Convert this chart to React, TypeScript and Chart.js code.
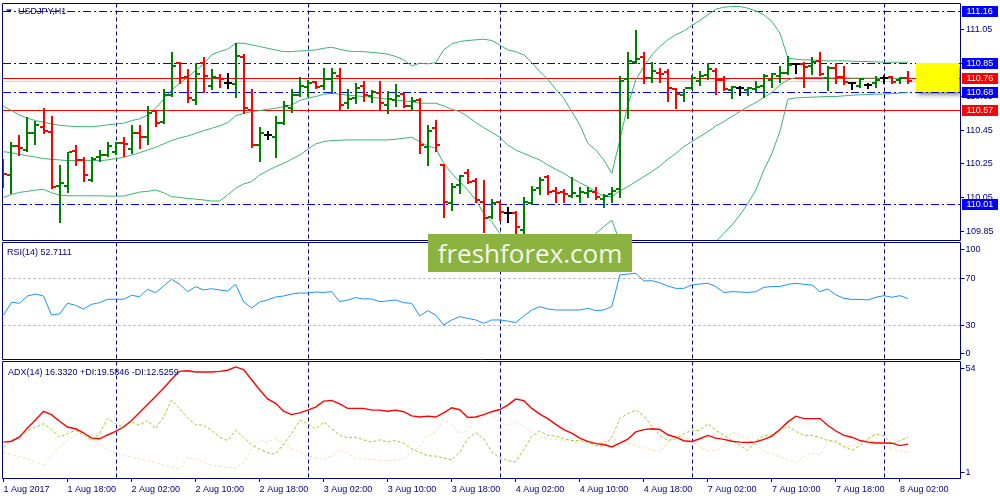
import React, { useEffect, useRef } from 'react';
import { Chart, registerables } from 'chart.js';

Chart.register(...registerables);

// ---------------- data (USDJPY H1, 1 Aug 2017 10:00 .. 8 Aug 2017 03:00) ----------------
const opens = [
  110.254, 110.184, 110.357, 110.333, 110.436, 110.468, 110.438, 110.119, 110.121, 110.329,
  110.274, 110.155, 110.293, 110.303, 110.323, 110.377, 110.337, 110.436, 110.409, 110.565,
  110.502, 110.661, 110.849, 110.766, 110.631, 110.853, 110.714, 110.764, 110.734, 110.726,
  110.885, 110.571, 110.363, 110.422, 110.413, 110.492, 110.581, 110.661, 110.706, 110.740,
  110.714, 110.754, 110.774, 110.611, 110.645, 110.714, 110.657, 110.674, 110.601, 110.631,
  110.666, 110.595, 110.631, 110.353, 110.462, 110.244, 110.020, 110.125, 110.198, 110.151,
  110.026, 109.936, 110.026, 109.956, 109.956, 109.857, 110.016, 110.105, 110.170, 110.091,
  110.085, 110.059, 110.059, 110.079, 110.085, 110.039, 110.069, 110.099, 110.754, 110.859,
  110.885, 110.760, 110.793, 110.799, 110.694, 110.661, 110.700, 110.746, 110.780, 110.805,
  110.750, 110.690, 110.700, 110.690, 110.694, 110.714, 110.750, 110.774, 110.793, 110.845,
  110.845, 110.833, 110.865, 110.764, 110.819, 110.766, 110.730, 110.714, 110.720, 110.734,
  110.760, 110.766, 110.750, 110.760,
];
const highs = [
  110.278, 110.383, 110.422, 110.528, 110.506, 110.585, 110.536, 110.244, 110.323, 110.363,
  110.293, 110.289, 110.333, 110.383, 110.383, 110.409, 110.482, 110.482, 110.595, 110.571,
  110.694, 110.918, 110.855, 110.813, 110.853, 110.885, 110.813, 110.786, 110.793, 110.972,
  110.905, 110.694, 110.468, 110.446, 110.536, 110.627, 110.694, 110.766, 110.750, 110.744,
  110.819, 110.819, 110.819, 110.694, 110.730, 110.744, 110.690, 110.744, 110.686, 110.726,
  110.670, 110.651, 110.641, 110.482, 110.512, 110.250, 110.139, 110.184, 110.218, 110.164,
  110.155, 110.039, 110.032, 109.996, 109.972, 110.051, 110.119, 110.170, 110.184, 110.111,
  110.101, 110.170, 110.111, 110.111, 110.111, 110.071, 110.111, 110.774, 110.918, 111.047,
  110.918, 110.859, 110.819, 110.813, 110.700, 110.694, 110.780, 110.803, 110.849, 110.819,
  110.774, 110.714, 110.714, 110.706, 110.746, 110.786, 110.793, 110.833, 110.889, 110.853,
  110.859, 110.885, 110.913, 110.833, 110.853, 110.833, 110.740, 110.760, 110.734, 110.774,
  110.780, 110.774, 110.770, 110.803,
];
const lows = [
  110.115, 110.079, 110.303, 110.329, 110.369, 110.432, 110.109, 109.907, 110.085, 110.244,
  110.149, 110.149, 110.270, 110.299, 110.309, 110.297, 110.317, 110.343, 110.369, 110.478,
  110.492, 110.657, 110.730, 110.621, 110.607, 110.676, 110.694, 110.710, 110.700, 110.651,
  110.551, 110.353, 110.270, 110.397, 110.289, 110.488, 110.561, 110.655, 110.655, 110.700,
  110.694, 110.670, 110.571, 110.581, 110.611, 110.627, 110.621, 110.571, 110.551, 110.595,
  110.591, 110.571, 110.317, 110.244, 110.329, 109.936, 109.976, 110.079, 110.139, 110.026,
  109.847, 109.926, 109.916, 109.907, 109.813, 109.807, 110.012, 110.069, 110.069, 110.026,
  110.022, 110.051, 110.026, 110.055, 110.039, 109.996, 110.026, 110.055, 110.522, 110.849,
  110.730, 110.740, 110.740, 110.627, 110.581, 110.627, 110.694, 110.720, 110.754, 110.666,
  110.690, 110.641, 110.661, 110.661, 110.686, 110.651, 110.706, 110.740, 110.786, 110.789,
  110.710, 110.786, 110.780, 110.690, 110.730, 110.726, 110.694, 110.710, 110.700, 110.710,
  110.730, 110.734, 110.730, 110.730,
];
const closes = [
  110.190, 110.359, 110.343, 110.436, 110.480, 110.448, 110.111, 110.135, 110.319, 110.274,
  110.184, 110.278, 110.303, 110.359, 110.373, 110.367, 110.436, 110.409, 110.551, 110.492,
  110.661, 110.833, 110.760, 110.641, 110.786, 110.774, 110.770, 110.754, 110.734, 110.893,
  110.581, 110.363, 110.432, 110.422, 110.492, 110.595, 110.661, 110.714, 110.730, 110.706,
  110.756, 110.789, 110.601, 110.635, 110.700, 110.661, 110.680, 110.611, 110.635, 110.657,
  110.595, 110.627, 110.363, 110.448, 110.363, 110.026, 110.115, 110.178, 110.145, 110.036,
  109.926, 110.016, 109.966, 109.956, 109.877, 110.026, 110.095, 110.155, 110.085, 110.075,
  110.071, 110.075, 110.081, 110.089, 110.055, 110.059, 110.091, 110.746, 110.863, 110.873,
  110.760, 110.803, 110.786, 110.700, 110.666, 110.700, 110.760, 110.774, 110.813, 110.750,
  110.694, 110.710, 110.700, 110.700, 110.706, 110.774, 110.786, 110.789, 110.839, 110.845,
  110.829, 110.859, 110.786, 110.819, 110.766, 110.740, 110.730, 110.758, 110.720, 110.750,
  110.760, 110.740, 110.760, 110.744,
];
const bbUpper = [
  110.595, 110.567, 110.541, 110.522, 110.508, 110.498, 110.488, 110.480, 110.476, 110.472,
  110.472, 110.472, 110.476, 110.482, 110.488, 110.492, 110.508, 110.518, 110.541, 110.581,
  110.635, 110.690, 110.730, 110.766, 110.805, 110.845, 110.899, 110.918, 110.932, 110.968,
  110.968, 110.958, 110.948, 110.938, 110.928, 110.918, 110.918, 110.922, 110.924, 110.928,
  110.938, 110.944, 110.932, 110.922, 110.918, 110.918, 110.913, 110.909, 110.903, 110.889,
  110.869, 110.833, 110.849, 110.845, 110.853, 110.928, 110.964, 110.978, 110.984, 110.988,
  110.992, 110.984, 110.958, 110.928, 110.918, 110.899, 110.853, 110.799, 110.754, 110.694,
  110.641, 110.561, 110.482, 110.373, 110.333, 110.274, 110.194, 110.393, 110.601, 110.750,
  110.829, 110.899, 110.948, 110.988, 111.018, 111.041, 111.073, 111.103, 111.137, 111.170,
  111.182, 111.186, 111.186, 111.176, 111.160, 111.137, 111.097, 111.028, 110.879, 110.873,
  110.869, 110.869, 110.865, 110.863, 110.863, 110.863, 110.861, 110.859, 110.859, 110.857,
  110.855, 110.855, 110.855, 110.855,
];
const bbMiddle = [
  110.323, 110.317, 110.307, 110.299, 110.291, 110.282, 110.278, 110.274, 110.270, 110.270,
  110.270, 110.270, 110.270, 110.274, 110.282, 110.289, 110.303, 110.317, 110.333, 110.349,
  110.369, 110.389, 110.405, 110.416, 110.432, 110.448, 110.462, 110.476, 110.496, 110.536,
  110.551, 110.561, 110.567, 110.575, 110.581, 110.591, 110.601, 110.627, 110.641, 110.651,
  110.664, 110.670, 110.664, 110.659, 110.655, 110.651, 110.647, 110.641, 110.635, 110.631,
  110.625, 110.621, 110.611, 110.611, 110.611, 110.595, 110.575, 110.561, 110.532, 110.496,
  110.466, 110.438, 110.409, 110.363, 110.333, 110.313, 110.293, 110.274, 110.244, 110.218,
  110.194, 110.164, 110.139, 110.115, 110.085, 110.059, 110.055, 110.091, 110.115, 110.145,
  110.174, 110.204, 110.238, 110.278, 110.313, 110.353, 110.383, 110.413, 110.442, 110.476,
  110.502, 110.532, 110.561, 110.591, 110.615, 110.647, 110.674, 110.720, 110.750, 110.764,
  110.764, 110.764, 110.764, 110.762, 110.762, 110.762, 110.760, 110.760, 110.760, 110.760,
  110.760, 110.758, 110.758, 110.758,
];
const bbLower = [
  110.051, 110.069, 110.081, 110.087, 110.095, 110.099, 110.079, 110.065, 110.061, 110.061,
  110.061, 110.061, 110.061, 110.059, 110.059, 110.059, 110.071, 110.083, 110.087, 110.095,
  110.079, 110.055, 110.051, 110.045, 110.041, 110.036, 110.030, 110.030, 110.065, 110.105,
  110.131, 110.145, 110.184, 110.210, 110.234, 110.254, 110.278, 110.303, 110.337, 110.369,
  110.383, 110.389, 110.391, 110.393, 110.393, 110.393, 110.393, 110.393, 110.393, 110.397,
  110.403, 110.409, 110.383, 110.357, 110.343, 110.254, 110.194, 110.145, 110.095, 110.036,
  109.956, 109.907, 109.837, 109.790, 109.748, 109.727, 109.733, 109.749, 109.734, 109.742,
  109.747, 109.767, 109.780, 109.785, 109.837, 109.877, 109.916, 109.790, 109.629, 109.540,
  109.519, 109.509, 109.528, 109.568, 109.608, 109.665, 109.693, 109.723, 109.747, 109.788,
  109.837, 109.887, 109.946, 110.016, 110.095, 110.214, 110.313, 110.442, 110.635, 110.643,
  110.645, 110.647, 110.649, 110.651, 110.651, 110.655, 110.659, 110.661, 110.663, 110.665,
  110.666, 110.668, 110.672, 110.674,
];
const rsiValues = [
  38.7, 49.5, 48.7, 54.9, 56.6, 54.9, 38.7, 39.6, 48.7, 47.0,
  43.8, 47.8, 49.2, 52.1, 52.1, 52.1, 55.5, 54.3, 60.6, 57.7,
  63.4, 69.1, 64.9, 58.6, 62.8, 60.0, 61.1, 60.0, 59.1, 64.9,
  50.0, 44.7, 49.8, 51.5, 54.0, 54.9, 56.6, 57.4, 57.4, 58.3,
  57.9, 58.6, 50.1, 51.5, 53.5, 52.4, 52.4, 50.1, 50.7, 51.5,
  49.2, 48.7, 37.9, 42.4, 38.7, 30.2, 34.5, 37.3, 35.9, 34.5,
  31.6, 34.5, 34.5, 33.6, 32.2, 37.9, 43.0, 45.8, 43.9, 43.0,
  43.0, 43.0, 43.0, 44.4, 42.4, 43.0, 45.8, 72.8, 73.6, 74.2,
  67.7, 67.9, 66.2, 63.4, 61.4, 61.4, 64.3, 65.1, 65.7, 62.9,
  57.9, 58.6, 58.3, 57.9, 58.6, 62.3, 62.9, 62.9, 64.8, 65.7,
  64.8, 64.3, 58.6, 60.9, 55.8, 52.9, 52.0, 52.0, 51.5, 53.8,
  55.2, 53.8, 55.2, 52.7,
];
const adxValues = [
  17.2, 17.6, 19.4, 23.6, 27.2, 31.1, 29.6, 26.6, 24.0, 23.2,
  21.4, 19.0, 18.7, 20.4, 22.0, 24.0, 26.9, 30.5, 34.2, 37.8,
  41.5, 45.5, 49.1, 49.4, 48.8, 48.8, 48.8, 49.1, 49.6, 51.1,
  49.9, 45.3, 40.8, 36.7, 34.7, 31.1, 29.6, 30.4, 31.6, 33.0,
  35.7, 36.0, 34.4, 32.4, 32.4, 32.4, 31.6, 31.6, 31.1, 31.6,
  30.9, 29.0, 28.5, 28.9, 28.5, 30.4, 32.7, 31.8, 28.3, 28.5,
  29.6, 30.9, 31.9, 33.9, 36.6, 35.9, 32.4, 29.8, 27.8, 25.2,
  22.8, 21.2, 19.0, 17.5, 16.5, 16.1, 15.0, 16.7, 18.5, 21.8,
  22.8, 23.2, 22.9, 20.5, 19.4, 17.8, 17.5, 18.7, 20.2, 19.0,
  18.4, 17.6, 17.2, 17.0, 17.3, 18.4, 19.9, 22.9, 26.3, 28.9,
  27.8, 27.8, 27.8, 24.7, 22.2, 20.2, 19.4, 17.9, 17.2, 16.8,
  16.8, 16.7, 15.6, 16.3,
];
const plusDIValues = [
  14.9, 17.9, 19.9, 22.5, 24.0, 25.5, 22.9, 19.4, 21.0, 22.5,
  20.5, 17.9, 21.0, 27.8, 25.5, 24.0, 26.3, 24.8, 27.0, 23.2,
  28.6, 36.2, 32.4, 28.1, 25.1, 24.8, 22.5, 19.4, 17.9, 22.5,
  19.4, 15.9, 14.1, 12.3, 11.8, 16.4, 21.0, 27.0, 25.5, 23.2,
  26.3, 23.2, 20.2, 19.1, 19.4, 18.2, 17.2, 18.2, 17.2, 17.9,
  16.7, 14.1, 12.6, 11.0, 10.9, 10.0, 9.1, 12.6, 18.7, 21.5,
  18.7, 12.6, 10.3, 8.8, 8.3, 13.8, 19.9, 22.2, 20.2, 19.9,
  18.7, 17.9, 17.9, 17.2, 15.6, 15.3, 19.4, 27.8, 30.1, 31.6,
  29.0, 24.4, 20.2, 17.9, 18.7, 20.9, 22.5, 22.5, 25.5, 22.5,
  20.2, 17.9, 15.6, 13.4, 17.6, 20.2, 20.5, 22.5, 24.3, 22.0,
  20.2, 20.1, 19.3, 17.9, 17.6, 15.3, 13.4, 15.6, 18.7, 20.9,
  19.9, 16.4, 17.8, 19.6,
];
const minusDIValues = [
  12.6, 11.6, 10.7, 9.6, 8.1, 6.9, 11.1, 14.9, 17.9, 20.2,
  21.4, 19.0, 16.4, 13.4, 12.1, 11.1, 10.3, 9.6, 8.8, 8.1,
  6.9, 5.9, 5.1, 10.3, 9.6, 8.1, 6.9, 6.3, 5.7, 5.4,
  8.1, 14.1, 17.9, 17.1, 19.0, 16.4, 14.4, 12.6, 11.1, 9.9,
  9.2, 11.0, 13.8, 12.1, 9.8, 9.5, 9.4, 8.8, 8.8, 8.8,
  9.7, 12.6, 15.3, 19.9, 21.8, 27.4, 25.1, 20.9, 22.9, 29.3,
  31.6, 29.3, 26.0, 24.7, 26.3, 24.3, 21.8, 19.7, 18.7, 18.4,
  17.9, 17.2, 16.8, 16.7, 16.8, 17.2, 18.5, 17.9, 16.8, 15.6,
  14.6, 13.7, 12.8, 16.8, 19.4, 19.7, 17.9, 14.9, 13.3, 13.3,
  15.6, 21.8, 20.5, 18.4, 15.9, 13.0, 11.8, 10.6, 9.2, 8.0,
  10.7, 12.4, 11.3, 17.6, 16.8, 14.9, 15.3, 17.2, 18.2, 16.8,
  15.6, 14.1, 13.3, 12.5,
];

const xTickIndex = [0, 8, 16, 24, 32, 40, 48, 56, 64, 72, 80, 88, 96, 104, 112];
const xTickLabels = [
  '1 Aug 2017', '1 Aug 18:00', '2 Aug 02:00', '2 Aug 10:00', '2 Aug 18:00',
  '3 Aug 02:00', '3 Aug 10:00', '3 Aug 18:00', '4 Aug 02:00', '4 Aug 10:00',
  '4 Aug 18:00', '7 Aug 02:00', '7 Aug 10:00', '7 Aug 18:00', '8 Aug 02:00',
];
const daySeparators = [14, 38, 62, 86, 110];
const priceTicks = [109.85, 110.05, 110.25, 110.45, 110.65, 110.85, 111.05];
const rsiTicks = [100, 70, 30, 0];
const rsiLevels = [70, 30];
const adxTicks = [54, 1];
const blueLevels = [111.16, 110.85, 110.68, 110.01];
const redLevels = [110.76, 110.57];
const bidPrice = 110.744;
const bidLabel = '110.74';
const zoneFrom = 110.68;
const zoneTo = 110.85;
const zoneStartIndex = 114;

const mainTitle = 'USDJPY,H1';
const rsiTitle = 'RSI(14) 52.7111';
const adxTitle = 'ADX(14) 16.3320 +DI:19.5846 -DI:12.5259';
const watermark = 'freshforex.com';

// ---------------- styling ----------------
const NAVY = '#000080';
const FF = '"Liberation Sans", Arial, sans-serif';
const FS = 9;
const FONT = `${FS}px ${FF}`;
const UP = '#008000';
const DOWN = '#ff0000';
const DOJI = '#000000';
const BLUE = '#0000ff';
const RED = '#ff0000';

function xy(arr: number[]) {
  return arr.map((v, i) => ({ x: i, y: v }));
}

function getPanels(chart: any) {
  const { y, yR, yA } = chart.scales;
  const f = (v: number) => Math.floor(v) + 0.5;
  return {
    y: { t: f(y.top + 0.5), b: f(y.bottom - 0.5) },
    yR: { t: f(yR.top + 1.5), b: f(yR.bottom - 1) },
    yA: { t: f(yA.top + 1), b: f(yA.bottom + 0.5) },
  } as Record<string, { t: number; b: number }>;
}

function clipPanel(chart: any, id: string) {
  const { ctx, chartArea } = chart;
  const p = getPanels(chart)[id];
  ctx.beginPath();
  ctx.rect(chartArea.left, p.t + 0.5, chartArea.right - chartArea.left, p.b - p.t - 1);
  ctx.clip();
  ctx.beginPath();
}

const mt4Plugin = {
  id: 'mt4Decor',
  beforeDatasetsDraw(chart: any) {
    const { ctx, chartArea: ca, scales } = chart;
    const { x, y, yR } = scales;
    const panels = getPanels(chart);
    ctx.save();
    ctx.lineWidth = 1;
    // period separators
    ctx.strokeStyle = NAVY;
    ctx.setLineDash([4, 3]);
    for (const key of ['y', 'yR', 'yA']) {
      const p = panels[key];
      for (const d of daySeparators) {
        const px = Math.round(x.getPixelForValue(d)) + 0.5;
        ctx.beginPath();
        ctx.moveTo(px, p.t);
        ctx.lineTo(px, p.b);
        ctx.stroke();
      }
    }
    // RSI levels
    ctx.strokeStyle = '#c0c0c0';
    ctx.setLineDash([3, 2]);
    for (const lv of rsiLevels) {
      const py = Math.round(yR.getPixelForValue(lv)) + 0.5;
      ctx.beginPath();
      ctx.moveTo(ca.left, py);
      ctx.lineTo(ca.right, py);
      ctx.stroke();
    }
    // main panel horizontal objects
    ctx.save();
    clipPanel(chart, 'y');
    const hline = (v: number) => {
      const py = Math.round(y.getPixelForValue(v)) + 0.5;
      ctx.beginPath();
      ctx.moveTo(ca.left, py);
      ctx.lineTo(ca.right, py);
      ctx.stroke();
    };
    ctx.setLineDash([]);
    ctx.strokeStyle = '#d3d3d3';
    hline(bidPrice);
    ctx.strokeStyle = RED;
    redLevels.forEach(hline);
    ctx.strokeStyle = BLUE;
    ctx.setLineDash([8, 3, 2, 3]);
    blueLevels.forEach(hline);
    ctx.restore();
    ctx.beginPath();
    ctx.restore();
  },
  beforeDatasetDraw(chart: any, args: any) {
    chart.ctx.save();
    clipPanel(chart, args.meta.yScale.id);
  },
  afterDatasetDraw(chart: any) {
    chart.ctx.restore();
  },
  afterDatasetsDraw(chart: any) {
    const { ctx, chartArea: ca, scales } = chart;
    const { x, y } = scales;
    const panels = getPanels(chart);
    // OHLC bars
    ctx.save();
    clipPanel(chart, 'y');
    for (let i = 0; i < opens.length; i++) {
      const px = Math.round(x.getPixelForValue(i));
      const col = closes[i] > opens[i] ? UP : closes[i] < opens[i] ? DOWN : DOJI;
      const yh = Math.round(y.getPixelForValue(highs[i]));
      const yl = Math.round(y.getPixelForValue(lows[i]));
      const yo = Math.round(y.getPixelForValue(opens[i]));
      const yc = Math.round(y.getPixelForValue(closes[i]));
      ctx.fillStyle = col;
      ctx.fillRect(px - 1, yh, 2, Math.max(1, yl - yh + 1));
      ctx.fillRect(px - 4, yo - 1, 3, 2);
      ctx.fillRect(px + 1, yc - 1, 3, 2);
    }
    // yellow zone
    const zx = Math.round(x.getPixelForValue(zoneStartIndex));
    const zt = Math.round(y.getPixelForValue(zoneTo));
    const zb = Math.round(y.getPixelForValue(zoneFrom));
    ctx.save();
    ctx.shadowColor = 'rgba(0,0,0,0.45)';
    ctx.shadowBlur = 4;
    ctx.shadowOffsetX = 2;
    ctx.shadowOffsetY = 3;
    ctx.fillStyle = '#ffff00';
    ctx.fillRect(zx, zt, Math.round(ca.right) - 1 - zx, zb - zt);
    ctx.restore();
    ctx.restore();

    // panel borders
    ctx.save();
    ctx.strokeStyle = NAVY;
    ctx.lineWidth = 1;
    const L = Math.floor(ca.left - 0.5) + 0.5;
    const R = Math.floor(ca.right) + 0.5;
    for (const key of ['y', 'yR', 'yA']) {
      const p = panels[key];
      ctx.beginPath();
      ctx.rect(L, p.t, R - L, p.b - p.t);
      ctx.stroke();
    }
    // titles
    ctx.fillStyle = NAVY;
    ctx.font = FONT;
    ctx.textBaseline = 'alphabetic';
    ctx.textAlign = 'left';
    const mt = panels.y.t;
    ctx.beginPath();
    ctx.moveTo(6, mt + 6);
    ctx.lineTo(12, mt + 6);
    ctx.lineTo(9, mt + 9);
    ctx.closePath();
    ctx.fill();
    ctx.beginPath();
    ctx.fillText(mainTitle, 18, mt + 10.5);
    ctx.fillText(rsiTitle, 7, panels.yR.t + 12.5);
    ctx.fillText(adxTitle, 8, panels.yA.t + 13.5);
    ctx.restore();
  },
  afterDraw(chart: any) {
    const { ctx, chartArea: ca, scales } = chart;
    const { y, yR, yA } = scales;
    const panels = getPanels(chart);
    const axisX = Math.floor(ca.right) + 0.5;
    ctx.save();
    ctx.font = FONT;
    ctx.textBaseline = 'middle';
    ctx.textAlign = 'left';
    // sub-window scales
    const sub = (scale: any, vals: number[], key: string) => {
      const p = panels[key];
      for (const v of vals) {
        let py = scale.getPixelForValue(v);
        py = Math.min(Math.max(py, p.t + 6.5), p.b - 6.5);
        const ty = Math.round(py) + 0.5;
        ctx.strokeStyle = NAVY;
        ctx.beginPath();
        ctx.moveTo(axisX, ty);
        ctx.lineTo(axisX + 4, ty);
        ctx.stroke();
        ctx.fillStyle = NAVY;
        ctx.fillText(String(v), axisX + 5, ty);
      }
    };
    sub(yR, rsiTicks, 'yR');
    sub(yA, adxTicks, 'yA');
    // bid label under the boxes
    ctx.fillStyle = NAVY;
    ctx.fillText(bidLabel, axisX + 6, Math.round(y.getPixelForValue(bidPrice)) + 0.5);
    // price boxes
    const box = (v: number, col: string) => {
      const cy = Math.round(y.getPixelForValue(v));
      ctx.fillStyle = col;
      ctx.fillRect(axisX + 1.5, cy - 5, 36, 11);
      ctx.fillStyle = '#ffffff';
      ctx.fillText(v.toFixed(2), axisX + 6, cy + 0.5);
    };
    redLevels.forEach((v) => box(v, RED));
    blueLevels.forEach((v) => box(v, BLUE));
    ctx.restore();
  },
};

export default function App() {
  const canvasRef = useRef<HTMLCanvasElement | null>(null);

  useEffect(() => {
    const canvas = canvasRef.current;
    if (!canvas) return;
    const zeroPad = (s: any) => {
      s.paddingTop = 0;
      s.paddingBottom = 0;
      s.paddingLeft = 0;
      s.paddingRight = 0;
    };
    const tickFont = { family: FF, size: FS };
    const line = (data: number[], axis: string, color: string, width = 1, dash: number[] = []) => ({
      data: xy(data),
      yAxisID: axis,
      borderColor: color,
      backgroundColor: color,
      borderWidth: width,
      borderDash: dash,
      pointRadius: 0,
      pointHoverRadius: 0,
      tension: 0,
      fill: false,
    });
    const chart = new Chart(canvas, {
      type: 'line',
      data: {
        datasets: [
          { label: 'BB upper', ...line(bbUpper, 'y', '#3cb371') },
          { label: 'BB middle', ...line(bbMiddle, 'y', '#3cb371') },
          { label: 'BB lower', ...line(bbLower, 'y', '#3cb371') },
          { label: 'RSI(14)', ...line(rsiValues, 'yR', '#1e90ff') },
          { label: 'ADX(14)', ...line(adxValues, 'yA', '#ff0000', 1.4) },
          { label: '+DI', ...line(plusDIValues, 'yA', '#9acd32', 1, [3, 2]) },
          { label: '-DI', ...line(minusDIValues, 'yA', '#f5deb3', 1, [3, 2]) },
        ] as any,
      },
      options: {
        animation: false,
        responsive: false,
        events: [],
        layout: { padding: { left: 3, top: 3, right: 0, bottom: 0 } },
        plugins: { legend: { display: false }, tooltip: { enabled: false } },
        scales: {
          x: {
            type: 'linear',
            min: -0.06,
            max: 119.5,
            bounds: 'data',
            afterFit: (s: any) => {
              s.height = 22;
              zeroPad(s);
            },
            afterBuildTicks: (s: any) => {
              s.ticks = xTickIndex.map((v) => ({ value: v }));
            },
            ticks: {
              callback: (_v: any, i: number) => xTickLabels[i],
              align: 'start',
              autoSkip: false,
              maxRotation: 0,
              minRotation: 0,
              font: tickFont,
              color: NAVY,
              padding: 2,
            },
            grid: { display: true, drawOnChartArea: false, drawTicks: true, tickLength: 4, color: NAVY },
            border: { display: false },
          },
          y: {
            type: 'linear',
            position: 'right',
            stack: 'panes',
            stackWeight: 238,
            min: 109.792,
            max: 111.207,
            bounds: 'data',
            afterFit: (s: any) => {
              s.width = 40;
              zeroPad(s);
            },
            afterBuildTicks: (s: any) => {
              s.ticks = priceTicks.map((v) => ({ value: v }));
            },
            ticks: {
              callback: (v: any) => Number(v).toFixed(2),
              autoSkip: false,
              font: tickFont,
              color: NAVY,
              padding: 2,
            },
            grid: { display: true, drawOnChartArea: false, drawTicks: true, tickLength: 4, color: NAVY },
            border: { display: false },
          },
          yR: {
            type: 'linear',
            position: 'right',
            stack: 'panes',
            stackWeight: 119.5,
            min: 0,
            max: 101.7,
            bounds: 'data',
            afterFit: (s: any) => {
              s.width = 40;
              zeroPad(s);
            },
            ticks: { display: false },
            grid: { display: false },
            border: { display: false },
          },
          yA: {
            type: 'linear',
            position: 'right',
            stack: 'panes',
            stackWeight: 117.5,
            min: 1,
            max: 54,
            bounds: 'data',
            afterFit: (s: any) => {
              s.width = 40;
              zeroPad(s);
            },
            ticks: { display: false },
            grid: { display: false },
            border: { display: false },
          },
        },
      } as any,
      plugins: [mt4Plugin as any],
    });
    return () => chart.destroy();
  }, []);

  return (
    <div
      style={{
        position: 'fixed',
        left: 0,
        top: 0,
        width: 1000,
        height: 500,
        background: '#ffffff',
        overflow: 'hidden',
      }}
    >
      <canvas ref={canvasRef} width={1000} height={500} style={{ width: 1000, height: 500, display: 'block' }} />
      <div
        style={{
          position: 'absolute',
          left: 428,
          top: 234,
          width: 204,
          height: 38,
          background: '#8cb33f',
          color: '#f3f6ec',
          fontFamily: '"Open Sans", "Noto Sans", sans-serif',
          fontSize: 26,
          lineHeight: '38px',
          textAlign: 'center',
          whiteSpace: 'nowrap',
        }}
      >
        {watermark}
      </div>
    </div>
  );
}
